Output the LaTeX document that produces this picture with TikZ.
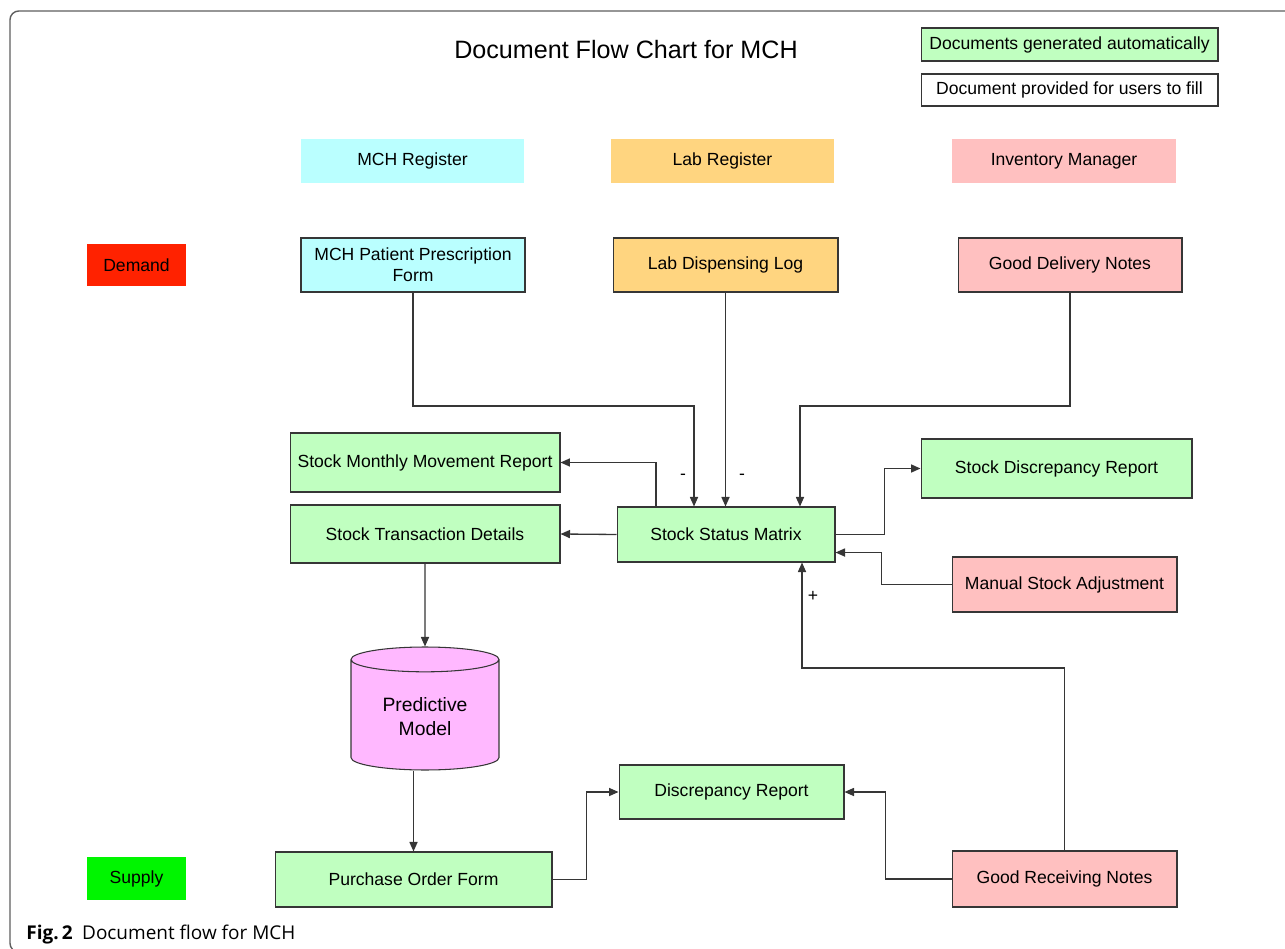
\documentclass[tikz,border=0pt]{standalone}
\usepackage{fontspec}
\setmainfont{Liberation Sans}
\newfontfamily\capfont{Open Sans}
\usetikzlibrary{arrows.meta,positioning,calc,shapes.geometric}
\definecolor{mchink}   {HTML}{363636}
\definecolor{mchframe} {HTML}{5E5E5E}
\definecolor{mchauto}  {HTML}{C0FFC0}
\definecolor{mchcyan}  {HTML}{BAFFFF}
\definecolor{mchlab}   {HTML}{FFD580}
\definecolor{mchinv}   {HTML}{FFC0C0}
\definecolor{mchred}   {HTML}{FF2200}
\definecolor{mchlime}  {HTML}{00F500}
\definecolor{mchmodel} {HTML}{FFB8FF}
\tikzset{
  mchbox/.style={draw=mchink, line width=0.6pt, inner sep=2pt, align=center,
                 font=\fontsize{10}{12}\selectfont},
  mchdoc/.style={mchbox, fill=mchauto},
  mchhead/.style={mchbox, draw=none},
  mchedge/.style={-{Triangle[length=5.4pt,width=4.6pt]}, draw=mchink, line width=0.75pt},
  mchsign/.style={inner sep=0pt, font=\fontsize{10}{12}\selectfont},
}

\begin{document}
\begin{tikzpicture}[x=0.02cm, y=-0.02cm]
  \useasboundingbox (0,0) rectangle (1285,949);
  \begin{scope}
    \clip (0,0) rectangle (1285,949);
    \draw[mchframe, line width=0.8pt, rounded corners=5pt] (10,11) rectangle (1300,952);
  \end{scope}

  % title and legend
  \node[font=\fontsize{14.3}{17}\selectfont] (title) at (626,50) {Document Flow Chart for MCH};
  \node[mchdoc, minimum width=5.94cm, minimum height=0.66cm] (legauto) at (1069.5,44.5)
       {Documents generated automatically};
  \node[mchbox, fill=white, minimum width=5.94cm, minimum height=0.64cm] (legfill) at (1069.5,90)
       {Document provided for users to fill};

  % column heads
  \node[mchhead, fill=mchcyan, minimum width=4.46cm, minimum height=0.88cm] (mchreg) at (412.5,161) {MCH Register};
  \node[mchhead, fill=mchlab, minimum width=4.46cm, minimum height=0.88cm] (labreg) at (722.5,161) {Lab Register};
  \node[mchhead, fill=mchinv, minimum width=4.48cm, minimum height=0.88cm] (invmgr) at (1064,161) {Inventory Manager};

  % demand row
  \node[mchhead, fill=mchred, minimum width=1.98cm, minimum height=0.84cm] (demand) at (136.5,265) {Demand};
  \node[mchbox, fill=mchcyan, minimum width=4.48cm, minimum height=1.08cm] (mchform) at (413,265)
       {MCH Patient Prescription\\Form};
  \node[mchbox, fill=mchlab, minimum width=4.50cm, minimum height=1.08cm] (lablog) at (725.5,265) {Lab Dispensing Log};
  \node[mchbox, fill=mchinv, minimum width=4.48cm, minimum height=1.08cm] (gdn) at (1070,265) {Good Delivery Notes};

  % stock documents
  \node[mchdoc, minimum width=5.40cm, minimum height=1.18cm] (smmr) at (425,462.5) {Stock Monthly Movement Report};
  \node[mchdoc, minimum width=5.40cm, minimum height=1.16cm] (std) at (425,534) {Stock Transaction Details};
  \node[mchdoc, minimum width=4.36cm, minimum height=1.10cm] (ssm) at (726,534.5) {Stock Status Matrix};
  \node[mchdoc, minimum width=5.42cm, minimum height=1.18cm] (sdr) at (1056.5,468.5) {Stock Discrepancy Report};
  \node[mchbox, fill=mchinv, minimum width=4.50cm, minimum height=1.10cm] (msa) at (1064.5,584.5) {Manual Stock Adjustment};

  % model and supply row
  \node[mchbox, shape=cylinder, shape border rotate=90, aspect=0.27, fill=mchmodel,
        minimum width=2.96cm, minimum height=2.46cm, anchor=shape center,
        font=\fontsize{11}{13.6}\selectfont]
       (model) at (425,708.5) {Predictive\\Model};
  \node[mchdoc, minimum width=4.50cm, minimum height=1.08cm] (dr) at (731.5,792) {Discrepancy Report};
  \node[mchdoc, minimum width=5.54cm, minimum height=1.10cm] (pof) at (413.5,879.5) {Purchase Order Form};
  \node[mchbox, fill=mchinv, minimum width=4.50cm, minimum height=1.12cm] (grn) at (1064.5,879) {Good Receiving Notes};
  \node[mchhead, fill=mchlime, minimum width=1.98cm, minimum height=0.86cm] (supply) at (136.5,878.5) {Supply};

  % connectors
  \coordinate (mchbend) at (694,406);
  \coordinate (gdnbend) at (800,406);
  \coordinate (grnbend) at (802,668);
  \draw[mchedge] (mchform.south) |- (mchbend) -- (mchbend |- ssm.north);
  \draw[mchedge] (lablog.south) -- (lablog.south |- ssm.north);
  \draw[mchedge] (gdn.south) |- (gdnbend) -- (gdnbend |- ssm.north);
  \draw[mchedge] ($(ssm.north west)!0.18!(ssm.north east)$) |- (smmr.east);
  \draw[mchedge] (ssm.west) -- (std.east);
  \draw[mchedge] (ssm.east) -- ++(49,0) |- (sdr.west);
  \draw[mchedge] (msa.west) -- ++(-70,0) |- ([yshift=0.2cm]ssm.south east);
  \draw[mchedge] (grn.north) |- (grnbend) -- (grnbend |- ssm.south);
  \draw[mchedge] (std.south) -- (model.north);
  \draw[mchedge] (model.south -| pof.north) -- (pof.north);
  \draw[mchedge] (pof.east) -- ++(34,0) |- (dr.west);
  \draw[mchedge] (grn.west) -- ++(-66,0) |- (dr.east);

  \node[mchsign] (minusmch) at (683,477) {-};
  \node[mchsign] (minuslab) at (742,477) {-};
  \node[mchsign] (plusgrn) at (813,596) {+};

  % caption
  \node[anchor=base west, inner sep=0pt, font=\capfont\fontsize{10.8}{13}\selectfont] (caption) at (26,939)
       {\textbf{Fig.\,2}\hspace{0.5em}Document flow for MCH};
\end{tikzpicture}
\end{document}
